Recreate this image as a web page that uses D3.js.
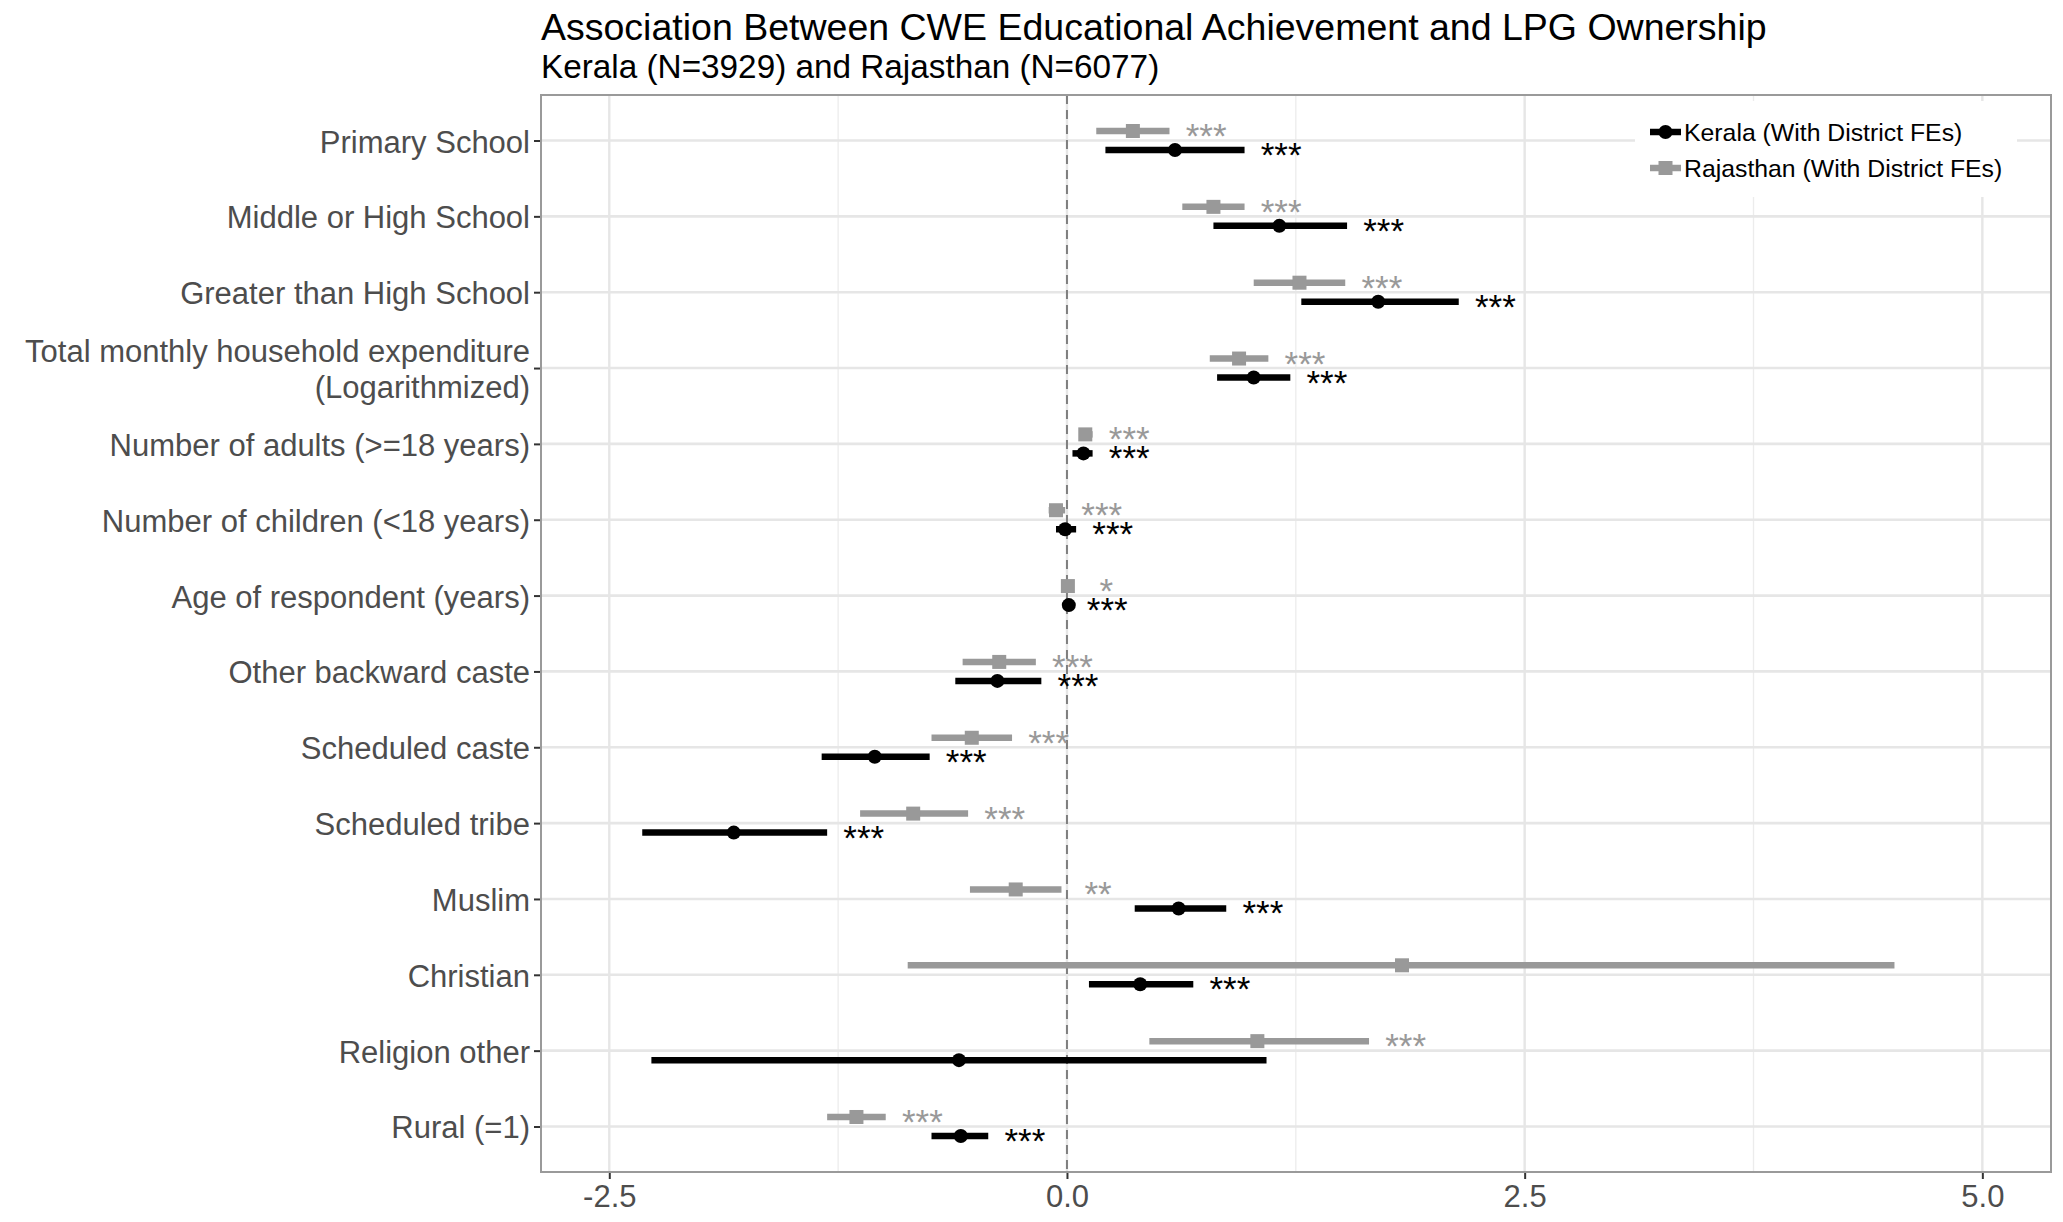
<!DOCTYPE html>
<html>
<head>
<meta charset="utf-8">
<script src="https://cdn.jsdelivr.net/npm/d3@7"></script>
<style>
  html, body { margin: 0; padding: 0; background: #fff; }
  svg { display: block; }
  text { font-family: "Liberation Sans", Arial, Helvetica, sans-serif; }
</style>
</head>
<body>
<svg id="chart" width="2063" height="1222"></svg>
<script>
// ---------------- DATA ----------------
const categories = [
  "Primary School",
  "Middle or High School",
  "Greater than High School",
  "Total monthly household expenditure\n(Logarithmized)",
  "Number of adults (>=18 years)",
  "Number of children (<18 years)",
  "Age of respondent (years)",
  "Other backward caste",
  "Scheduled caste",
  "Scheduled tribe",
  "Muslim",
  "Christian",
  "Religion other",
  "Rural (=1)"
];

const keralaEst = [0.59, 1.16, 1.70, 1.02, 0.09, -0.01, 0.01, -0.38, -1.05, -1.82, 0.61, 0.40, -0.59, -0.58];
const keralaLo  = [0.21, 0.80, 1.28, 0.82, 0.03, -0.06, 0.00, -0.61, -1.34, -2.32, 0.37, 0.12, -2.27, -0.74];
const keralaHi  = [0.97, 1.53, 2.14, 1.22, 0.14, 0.05, 0.02, -0.14, -0.75, -1.31, 0.87, 0.69, 1.09, -0.43];
const keralaSig = ["***", "***", "***", "***", "***", "***", "***", "***", "***", "***", "***", "***", "", "***"];

const rajEst = [0.36, 0.80, 1.27, 0.94, 0.10, -0.06, 0.005, -0.37, -0.52, -0.84, -0.28, 1.83, 1.04, -1.15];
const rajLo  = [0.16, 0.63, 1.02, 0.78, 0.07, -0.10, -0.005, -0.57, -0.74, -1.13, -0.53, -0.87, 0.45, -1.31];
const rajHi  = [0.56, 0.97, 1.52, 1.10, 0.14, -0.01, 0.015, -0.17, -0.30, -0.54, -0.03, 4.52, 1.65, -0.99];
const rajSig = ["***", "***", "***", "***", "***", "***", "*", "***", "***", "***", "**", "", "***", "***"];

const seriesNames = ["Kerala (With District FEs)", "Rajasthan (With District FEs)"];
const seriesColors = ["#000000", "#999999"];

const xMajorTicks = [-2.5, 0.0, 2.5, 5.0];
const xTickLabels = ["-2.5", "0.0", "2.5", "5.0"];
const xMinorTicks = [-1.25, 1.25, 3.75];
const xDomain = [-2.873, 5.375];

const titleText = "Association Between CWE Educational Achievement and LPG Ownership";
const subtitleText = "Kerala (N=3929) and Rajasthan (N=6077)";

// ---------------- LAYOUT ----------------
const svg = d3.select("#chart");
const panel = { left: 541, right: 2051, top: 95, bottom: 1172 };

const x = d3.scaleLinear().domain(xDomain).range([panel.left, panel.right]);
// discrete y with 0.6 expansion on each side
const y = d3.scaleLinear()
  .domain([-0.6, categories.length - 1 + 0.6])
  .range([panel.top, panel.bottom]);
const dodge = 9.5;

const series = [
  { name: seriesNames[0], color: seriesColors[0], est: keralaEst, lo: keralaLo, hi: keralaHi, sig: keralaSig, off: dodge, shape: "circle" },
  { name: seriesNames[1], color: seriesColors[1], est: rajEst, lo: rajLo, hi: rajHi, sig: rajSig, off: -dodge, shape: "square" }
];

// panel background
svg.append("rect")
  .attr("x", panel.left).attr("y", panel.top)
  .attr("width", panel.right - panel.left).attr("height", panel.bottom - panel.top)
  .attr("fill", "#fff");

const grid = svg.append("g");
grid.selectAll(".minor").data(xMinorTicks).enter().append("line")
  .attr("x1", d => x(d)).attr("x2", d => x(d))
  .attr("y1", panel.top).attr("y2", panel.bottom)
  .attr("stroke", "#ececec").attr("stroke-width", 1.3);
grid.selectAll(".majorx").data(xMajorTicks).enter().append("line")
  .attr("x1", d => x(d)).attr("x2", d => x(d))
  .attr("y1", panel.top).attr("y2", panel.bottom)
  .attr("stroke", "#e6e6e6").attr("stroke-width", 2.4);
grid.selectAll(".majory").data(categories).enter().append("line")
  .attr("x1", panel.left).attr("x2", panel.right)
  .attr("y1", (d, i) => y(i)).attr("y2", (d, i) => y(i))
  .attr("stroke", "#e6e6e6").attr("stroke-width", 2.6);

// dashed zero line
svg.append("line")
  .attr("x1", x(0)).attr("x2", x(0))
  .attr("y1", panel.top).attr("y2", panel.bottom)
  .attr("stroke", "#7f7f7f").attr("stroke-width", 2)
  .attr("stroke-dasharray", "9,6");

// series
series.forEach(s => {
  const g = svg.append("g");
  const idx = d3.range(categories.length);
  g.selectAll("line.ci").data(idx).enter().append("line")
    .attr("x1", i => x(s.lo[i])).attr("x2", i => x(s.hi[i]))
    .attr("y1", i => y(i) + s.off).attr("y2", i => y(i) + s.off)
    .attr("stroke", s.color).attr("stroke-width", 6.5);
  if (s.shape === "circle") {
    g.selectAll("circle").data(idx).enter().append("circle")
      .attr("cx", i => x(s.est[i])).attr("cy", i => y(i) + s.off)
      .attr("r", 7).attr("fill", s.color);
  } else {
    g.selectAll("rect").data(idx).enter().append("rect")
      .attr("x", i => x(s.est[i]) - 7).attr("y", i => y(i) + s.off - 7)
      .attr("width", 14).attr("height", 14).attr("fill", s.color);
  }
  g.selectAll("text").data(idx.filter(i => s.sig[i] !== "")).enter().append("text")
    .attr("x", i => x(s.hi[i] + 0.2))
    .attr("y", i => y(i) + s.off + 17)
    .attr("text-anchor", "middle")
    .attr("font-size", 35)
    .attr("fill", s.color)
    .text(i => s.sig[i]);
});

// panel border
svg.append("rect")
  .attr("x", panel.left).attr("y", panel.top)
  .attr("width", panel.right - panel.left).attr("height", panel.bottom - panel.top)
  .attr("fill", "none").attr("stroke", "#9a9a9a").attr("stroke-width", 2);

// x axis
const xAxis = d3.axisBottom(x)
  .tickValues(xMajorTicks)
  .tickFormat((d, i) => xTickLabels[i])
  .tickSize(6).tickPadding(6);
const xg = svg.append("g").attr("transform", `translate(0,${panel.bottom + 1})`).call(xAxis);
xg.select(".domain").remove();
xg.selectAll(".tick line").attr("stroke", "#333").attr("stroke-width", 2);
xg.selectAll(".tick text").attr("font-size", 31).attr("fill", "#4d4d4d")
  .attr("font-family", "'Liberation Sans', Arial, sans-serif").attr("dy", "0.72em");

// y axis
const yAxis = d3.axisLeft(y)
  .tickValues(d3.range(categories.length))
  .tickFormat("")
  .tickSize(6);
const yg = svg.append("g").attr("transform", `translate(${panel.left - 1},0)`).call(yAxis);
yg.select(".domain").remove();
yg.selectAll(".tick line").attr("stroke", "#333").attr("stroke-width", 2);

const ylab = svg.append("g");
categories.forEach((c, i) => {
  const lines = c.split("\n");
  const lh = 36;
  const t = ylab.append("text")
    .attr("x", 530)
    .attr("text-anchor", "end")
    .attr("font-size", 31)
    .attr("fill", "#4d4d4d");
  const first = y(i) + 12 - (lines.length - 1) * lh / 2;
  lines.forEach((ln, k) => {
    t.append("tspan").attr("x", 530).attr("y", first + k * lh).text(ln);
  });
});

// legend
const leg = svg.append("g");
leg.append("rect").attr("x", 1635).attr("y", 101).attr("width", 382).attr("height", 96).attr("fill", "#fff");
series.forEach((s, k) => {
  const ly = 132 + k * 36;
  leg.append("line").attr("x1", 1650).attr("x2", 1681).attr("y1", ly).attr("y2", ly)
    .attr("stroke", s.color).attr("stroke-width", 6.5);
  if (s.shape === "circle") {
    leg.append("circle").attr("cx", 1665.5).attr("cy", ly).attr("r", 7).attr("fill", s.color);
  } else {
    leg.append("rect").attr("x", 1658.5).attr("y", ly - 7).attr("width", 14).attr("height", 14).attr("fill", s.color);
  }
  leg.append("text").attr("x", 1684).attr("y", ly + 9).attr("font-size", 24.8).attr("fill", "#000").text(s.name);
});

// titles
svg.append("text").attr("x", 541).attr("y", 40).attr("font-size", 37.5).attr("fill", "#000").text(titleText);
svg.append("text").attr("x", 541).attr("y", 78).attr("font-size", 33.3).attr("fill", "#000").text(subtitleText);
</script>
</body>
</html>
